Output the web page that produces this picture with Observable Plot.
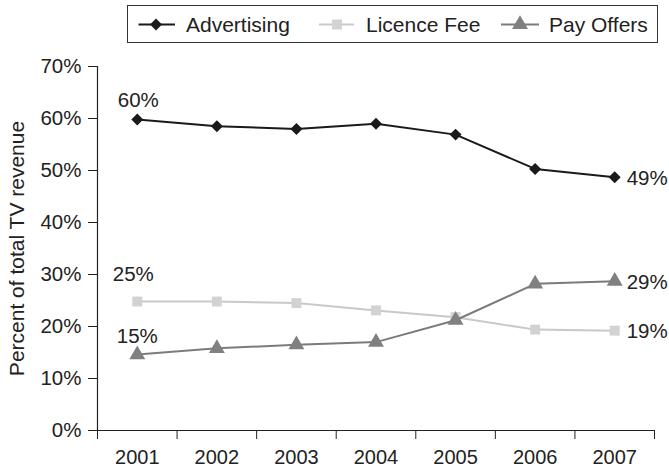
<!DOCTYPE html>
<html><head><meta charset="utf-8">
<script src="https://cdn.jsdelivr.net/npm/d3@7"></script>
<script src="https://cdn.jsdelivr.net/npm/@observablehq/plot@0.6"></script>
<style>
body{margin:0;background:#fff;font-family:"Liberation Sans",Arial,sans-serif;}
#wrap{position:relative;width:669px;height:470px;overflow:hidden;}
#legend{position:absolute;left:127px;top:5px;width:531px;height:38px;border:1.5px solid #333;box-sizing:border-box;background:#fff;}
#legend svg{position:absolute;left:0;top:0;}
#legend span{position:absolute;top:50%;transform:translateY(-50%);font-size:21px;color:#222;white-space:nowrap;line-height:1;}
</style></head>
<body><div id="wrap"><div id="chart"></div><div id="legend"></div></div>
<script>
const years = [2001, 2002, 2003, 2004, 2005, 2006, 2007];
const advertising = [59.8, 58.5, 58.0, 59.0, 56.9, 50.3, 48.7];
const licenceFee = [24.8, 24.8, 24.5, 23.1, 21.8, 19.4, 19.2];
const payOffers = [14.6, 15.8, 16.5, 17.0, 21.2, 28.2, 28.7];
const seriesNames = ["Advertising", "Licence Fee", "Pay Offers"];
const yTicks = [0, 10, 20, 30, 40, 50, 60, 70];
const labelSeries = ["Advertising", "Licence Fee", "Pay Offers", "Advertising", "Licence Fee", "Pay Offers"];
const labelYears = [2001, 2001, 2001, 2007, 2007, 2007];
const labelTexts = ["60%", "25%", "15%", "49%", "19%", "29%"];
const yTitle = "Percent of total TV revenue";

const seriesValues = {"Advertising": advertising, "Licence Fee": licenceFee, "Pay Offers": payOffers};
const rows = seriesNames.flatMap(s => years.map((yr, i) => ({series: s, year: yr, value: seriesValues[s][i]})));
const labels = labelTexts.map((t, i) => ({series: labelSeries[i], year: labelYears[i], text: t,
  value: seriesValues[labelSeries[i]][years.indexOf(labelYears[i])]}));
const bounds = years.map(y => y - 0.5).concat([years[years.length - 1] + 0.5]);

const lineColor = {"Advertising": "#1a1a1a", "Licence Fee": "#c9c9c9", "Pay Offers": "#7b7b7b"};
const dotColor = {"Advertising": "#1a1a1a", "Licence Fee": "#d2d2d2", "Pay Offers": "#808080"};
const symbolOf = {"Advertising": "diamond2", "Licence Fee": "square", "Pay Offers": "triangle"};
const rOf = {"Advertising": 5.4, "Licence Fee": 5.6, "Pay Offers": 5.9};
const order = ["Licence Fee", "Pay Offers", "Advertising"];

const FONT = "'Liberation Sans', Arial, sans-serif";
const marks = [
  Plot.ruleY([0], {stroke: "#222", strokeWidth: 1.2}),
  Plot.ruleX([bounds[0]], {stroke: "#222", strokeWidth: 1.2}),
  Plot.axisY({ticks: yTicks, tickSize: 9, tickPadding: 7, tickFormat: d => d + "%", label: null, stroke: "#222", fontSize: 20.5}),
  Plot.axisX({ticks: bounds, tickSize: 9, tickFormat: () => "", label: null, stroke: "#222"}),
  Plot.axisX({ticks: years, tickSize: 0, tickPadding: 19, tickFormat: d => String(d), label: null, fontSize: 20}),
  Plot.text([yTitle], {text: d => d, frameAnchor: "left", textAnchor: "middle", rotate: -90, dx: -80, fill: "#222", fontSize: 21})
];
for (const s of order) {
  const d = rows.filter(r => r.series === s);
  marks.push(Plot.line(d, {x: "year", y: "value", stroke: lineColor[s], strokeWidth: 2}));
  marks.push(Plot.dot(d, {x: "year", y: "value", symbol: () => symbolOf[s], r: rOf[s], fill: dotColor[s], stroke: "none"}));
}
const leftOff = {"Advertising": [1, -19], "Licence Fee": [-4, -27], "Pay Offers": [0, -18]};
for (const s of seriesNames) {
  marks.push(Plot.text(labels.filter(l => l.series === s && l.year === years[0]),
    {x: "year", y: "value", text: "text", dx: leftOff[s][0], dy: leftOff[s][1], fill: "#222", fontSize: 20.5}));
}
marks.push(Plot.text(labels.filter(l => l.year === years[years.length - 1]),
  {x: "year", y: "value", text: "text", textAnchor: "start", dx: 12, dy: 1, fill: "#222", fontSize: 20.5}));

const chart = Plot.plot({
  width: 669, height: 470,
  marginTop: 66, marginBottom: 40, marginLeft: 97, marginRight: 15,
  x: {type: "linear", domain: [bounds[0], bounds[bounds.length - 1]]},
  y: {domain: [0, 70]},
  symbol: {type: "identity"},
  style: {fontSize: "20px", fontFamily: FONT, color: "#222", background: "#fff"},
  marks
});
document.getElementById("chart").appendChild(chart);

// legend
const legend = d3.select("#legend");
const sw = legend.append("svg").attr("width", 531).attr("height", 38);
const legendPos = {"Advertising": [10.5, 47, 28, 58], "Licence Fee": [191, 226, 209, 238], "Pay Offers": [373, 411, 392, 421]};
const d3sym = {"Advertising": d3.symbolDiamond2 || d3.symbolDiamond, "Licence Fee": d3.symbolSquare, "Pay Offers": d3.symbolTriangle};
for (const s of seriesNames) {
  const [x1, x2, cx, tx] = legendPos[s];
  sw.append("line").attr("x1", x1).attr("x2", x2).attr("y1", 18.5).attr("y2", 18.5)
    .attr("stroke", lineColor[s]).attr("stroke-width", 2);
  sw.append("path").attr("transform", `translate(${cx},18.5)`)
    .attr("d", d3.symbol(d3sym[s], Math.PI * rOf[s] * rOf[s])()).attr("fill", dotColor[s]);
  legend.append("span").style("left", tx + "px").text(s);
}
</script>
</body></html>
